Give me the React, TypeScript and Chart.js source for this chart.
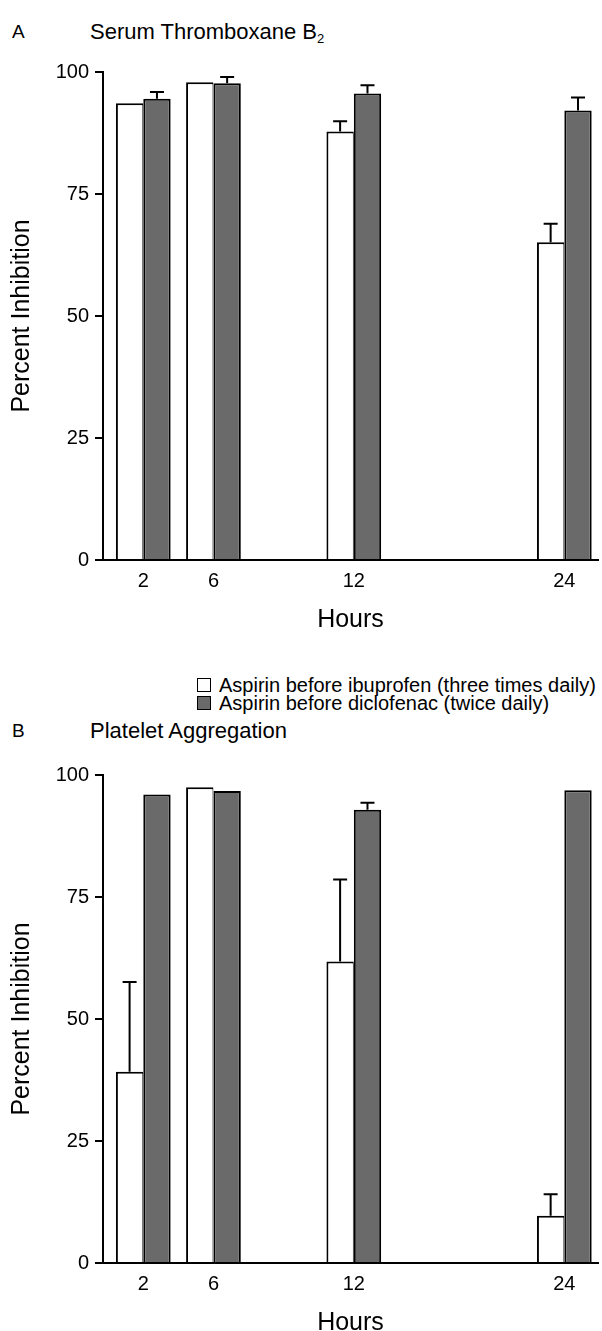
import React, { useEffect, useRef } from "react";
import { Chart, registerables } from "chart.js";

Chart.register(...registerables);

// ---------- data ----------
const hourLabels = ["2", "6", "12", "24"];
const hourSlots = [0, 1, 3, 6];
const yTickValues = [0, 25, 50, 75, 100];
const seriesNames = [
  "Aspirin before ibuprofen (three times daily)",
  "Aspirin before diclofenac (twice daily)",
];

const serumIbuprofen = [93.6, 97.9, 87.8, 65.1];
const serumIbuprofenErr = [null, null, 2.1, 3.8];
const serumDiclofenac = [94.5, 97.7, 95.6, 92.1];
const serumDiclofenacErr = [1.4, 1.3, 1.7, 2.7];

const plateletIbuprofen = [39.2, 97.5, 61.8, 9.7];
const plateletIbuprofenErr = [18.4, null, 16.8, 4.4];
const plateletDiclofenac = [96.0, 96.7, 92.9, 96.9];
const plateletDiclofenacErr = [null, null, 1.4, null];

const FONT = "'Liberation Sans', Arial, Helvetica, sans-serif";
const GREY = "#6a6a6a";

Chart.defaults.font.family = FONT;
Chart.defaults.color = "#000";

const errorBarPlugin = {
  id: "errorBars",
  afterDatasetsDraw(chart: any) {
    const { ctx } = chart;
    const yScale = chart.scales.y;
    chart.data.datasets.forEach((ds: any, di: number) => {
      const errs = ds.errors;
      if (!errs) return;
      const meta = chart.getDatasetMeta(di);
      meta.data.forEach((bar: any, i: number) => {
        const e = errs[i];
        if (e == null) return;
        const v = ds.data[i].y;
        const yTop = yScale.getPixelForValue(v + e);
        ctx.save();
        ctx.strokeStyle = "#000";
        ctx.lineWidth = 2;
        ctx.beginPath();
        ctx.moveTo(bar.x, bar.y);
        ctx.lineTo(bar.x, yTop);
        ctx.moveTo(bar.x - 7, yTop);
        ctx.lineTo(bar.x + 7, yTop);
        ctx.stroke();
        ctx.restore();
      });
    });
  },
};

function toPoints(values: number[]) {
  return hourSlots.map((s, i) => ({ x: s, y: values[i] }));
}

function BarPanel(props: {
  top: number;
  white: number[];
  whiteErr: (number | null)[];
  grey: number[];
  greyErr: (number | null)[];
}) {
  const ref = useRef<HTMLCanvasElement>(null);
  useEffect(() => {
    const canvas = ref.current!;
    const chart = new Chart(canvas, {
      type: "bar",
      data: {
        datasets: [
          {
            label: seriesNames[0],
            data: toPoints(props.white),
            errors: props.whiteErr,
            backgroundColor: "#ffffff",
            borderColor: "#000",
            borderWidth: { top: 2, left: 2, right: 1, bottom: 0 },
            barPercentage: 1,
            categoryPercentage: 0.78,
          } as any,
          {
            label: seriesNames[1],
            data: toPoints(props.grey),
            errors: props.greyErr,
            backgroundColor: GREY,
            borderColor: "#000",
            borderWidth: 2,
            barPercentage: 1,
            categoryPercentage: 0.78,
          } as any,
        ],
      },
      options: {
        responsive: false,
        animation: false,
        devicePixelRatio: 1,
        layout: { padding: { top: 20, right: 4, left: 0, bottom: 0 } },
        plugins: { legend: { display: false }, tooltip: { enabled: false } },
        scales: {
          x: {
            type: "linear",
            min: -0.574,
            max: 6.48,
            offset: false,
            grid: { display: false, drawTicks: false },
            border: { display: true, color: "#000", width: 2 },
            afterBuildTicks: (s: any) => {
              s.ticks = hourSlots.map((v) => ({ value: v }));
            },
            afterFit: (s: any) => {
              s.height = 75;
            },
            ticks: {
              autoSkip: false,
              maxRotation: 0,
              padding: 9,
              color: "#000",
              font: { size: 20 },
              callback: (v: any) => {
                const idx = hourSlots.indexOf(Number(v));
                return idx >= 0 ? hourLabels[idx] : "";
              },
            },
            title: {
              display: true,
              text: "Hours",
              color: "#000",
              font: { size: 25 },
              padding: { top: 0, bottom: 0 },
            },
          },
          y: {
            type: "linear",
            min: 0,
            max: 100,
            afterBuildTicks: (s: any) => {
              s.ticks = yTickValues.map((v) => ({ value: v }));
            },
            afterFit: (s: any) => {
              s.width = 103;
            },
            grid: {
              drawOnChartArea: false,
              drawTicks: true,
              tickLength: 8,
              color: "#000",
              lineWidth: 2,
            },
            border: { display: true, color: "#000", width: 2 },
            ticks: { padding: 6, color: "#000", font: { size: 20 } },
            title: {
              display: true,
              text: "Percent Inhibition",
              color: "#000",
              font: { size: 25 },
              padding: { top: 7, bottom: 0 },
            },
          },
        },
      } as any,
      plugins: [errorBarPlugin],
    });
    return () => chart.destroy();
  }, []);
  return (
    <canvas
      ref={ref}
      width={602}
      height={583}
      style={{ position: "absolute", left: 0, top: props.top, width: 602, height: 583 }}
    />
  );
}

function Heading(props: { top: number; letter: string; children: any }) {
  return (
    <>
      <div style={{ position: "absolute", left: 12, top: props.top - 12, fontSize: 19, lineHeight: "24px" }}>
        {props.letter}
      </div>
      <div style={{ position: "absolute", left: 90, top: props.top - 13, fontSize: 22, lineHeight: "26px", whiteSpace: "nowrap" }}>
        {props.children}
      </div>
    </>
  );
}

function LegendRow(props: { top: number; fill: string; text: string }) {
  return (
    <div style={{ position: "absolute", left: 197, top: props.top - 10, height: 20, display: "flex", alignItems: "center", whiteSpace: "nowrap" }}>
      <span
        style={{
          display: "inline-block",
          width: 14,
          height: 14,
          boxSizing: "border-box",
          border: "1.5px solid #000",
          background: props.fill,
          marginRight: 8,
        }}
      />
      <span style={{ fontSize: 20, lineHeight: "20px" }}>{props.text}</span>
    </div>
  );
}

export default function App() {
  return (
    <div
      style={{
        position: "fixed",
        left: 0,
        top: 0,
        width: 602,
        height: 1331,
        overflow: "hidden",
        background: "#fff",
        fontFamily: FONT,
        color: "#000",
      }}
    >
      <Heading top={32} letter="A">
        Serum Thromboxane B<sub style={{ fontSize: 13, verticalAlign: "-4px" }}>2</sub>
      </Heading>
      <BarPanel top={52} white={serumIbuprofen} whiteErr={serumIbuprofenErr} grey={serumDiclofenac} greyErr={serumDiclofenacErr} />
      <LegendRow top={685} fill="#ffffff" text={seriesNames[0]} />
      <LegendRow top={703} fill={GREY} text={seriesNames[1]} />
      <Heading top={731} letter="B">
        Platelet Aggregation
      </Heading>
      <BarPanel top={755} white={plateletIbuprofen} whiteErr={plateletIbuprofenErr} grey={plateletDiclofenac} greyErr={plateletDiclofenacErr} />
    </div>
  );
}
